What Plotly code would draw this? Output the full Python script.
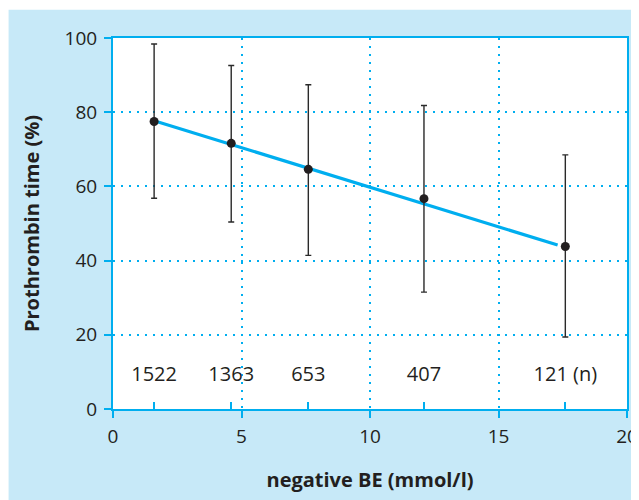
import plotly.graph_objects as go

# Data
be_x = [1.6, 4.6, 7.6, 12.1, 17.6]          # negative BE (mmol/l)
pt_mean = [77.5, 71.6, 64.6, 56.7, 43.8]    # prothrombin time (%)
pt_upper = [98.4, 92.6, 87.4, 81.8, 68.5]
pt_lower = [56.8, 50.4, 41.4, 31.5, 19.4]
n_labels = ["1522", "1363", "653", "407", "121 (n)"]
n_label_y = [9, 9, 9, 9, 9]
fit_x = [1.6, 17.3]
fit_y = [77.7, 44.2]
x_ticks = [0, 5, 10, 15, 20]
y_ticks = [0, 20, 40, 60, 80, 100]

BLUE = "#00aeef"
PANEL = "#c7e9f8"
DARK = "#231f20"
FONT = "Open Sans"

err_plus = [u - m for u, m in zip(pt_upper, pt_mean)]
err_minus = [m - l for m, l in zip(pt_mean, pt_lower)]

fig = go.Figure()

fig.add_trace(go.Scatter(
    x=fit_x, y=fit_y, mode="lines",
    line=dict(color=BLUE, width=3.2),
    hoverinfo="skip", showlegend=False,
))

fig.add_trace(go.Scatter(
    x=be_x, y=pt_mean, mode="markers",
    marker=dict(color=DARK, size=9),
    error_y=dict(type="data", symmetric=False, array=err_plus,
                 arrayminus=err_minus, color="#2a2a2a",
                 thickness=1.4, width=3),
    showlegend=False,
))

fig.add_trace(go.Scatter(
    x=be_x, y=n_label_y, mode="text", text=n_labels,
    textposition="middle center",
    textfont=dict(family=FONT, size=20, color=DARK),
    hoverinfo="skip", showlegend=False,
))

# page is offset by the 8px body margin
L, R, T, B = 105.3, 20.3, 30.3, 98.7
W, H = 639, 500
pw = W - L - R
ph = H - T - B

fig.update_layout(
    width=W, height=H,
    margin=dict(l=L, r=R, t=T, b=B, pad=0),
    paper_bgcolor="white",
    plot_bgcolor="white",
    font=dict(family=FONT, color=DARK),
    shapes=[
        dict(type="rect", xref="paper", yref="paper", layer="below",
             x0=(1 - L) / pw, x1=(W - L) / pw,
             y0=(H - B - H) / ph, y1=(H - B - 2) / ph,
             fillcolor=PANEL, line=dict(width=0)),
        dict(type="rect", xref="paper", yref="paper", layer="below",
             x0=0, x1=1, y0=0, y1=1,
             fillcolor="white", line=dict(width=0)),
    ],
)

fig.update_xaxes(
    range=[0, 20], tickvals=x_ticks,
    showline=True, linecolor=BLUE, linewidth=2, mirror=True,
    ticks="outside", ticklen=7, tickwidth=2, tickcolor=BLUE,
    tickfont=dict(family=FONT, size=19, color=DARK),
    ticklabelstandoff=2,
    showgrid=True, gridcolor=BLUE, gridwidth=2, griddash="2px,6px",
    zeroline=False,
    minor=dict(tickvals=be_x, ticks="inside", ticklen=7, tickwidth=2,
               tickcolor=BLUE, showgrid=False),
    title=dict(text="<b>negative BE (mmol/l)</b>",
               font=dict(family=FONT, size=20, color=DARK), standoff=25),
    automargin=False,
)

fig.update_yaxes(
    range=[0, 100], tickvals=y_ticks,
    showline=True, linecolor=BLUE, linewidth=2, mirror=True,
    ticks="outside", ticklen=7, tickwidth=2, tickcolor=BLUE,
    tickfont=dict(family=FONT, size=19, color=DARK),
    ticklabelstandoff=3,
    showgrid=True, gridcolor=BLUE, gridwidth=2, griddash="2px,6px",
    zeroline=False,
    title=dict(text="<b>Prothrombin time (%)</b>",
               font=dict(family=FONT, size=20, color=DARK), standoff=20),
    automargin=False,
)

fig.write_html("out.html")
